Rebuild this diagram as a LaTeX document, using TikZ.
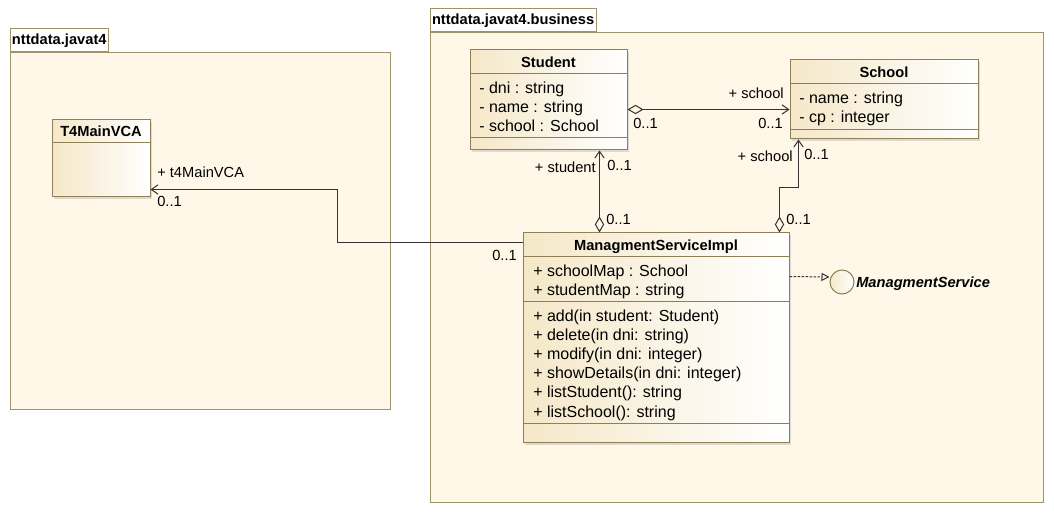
\documentclass[tikz,border=0pt]{standalone}
\usepackage{fontspec}
\setmainfont{Liberation Sans}
\usetikzlibrary{arrows.meta,positioning,calc,fit,shadows}
\definecolor{pkgfill}{HTML}{FFF8E9}
\definecolor{pkgline}{HTML}{A0936B}
\definecolor{clsline}{HTML}{8F7F57}
\definecolor{clstan}{HTML}{F5E8C8}
\definecolor{ink}{HTML}{333333}

\begin{document}
\begin{tikzpicture}[x=0.75pt,y=-0.75pt,
    font=\fontsize{12}{14}\selectfont,
    pkgbox/.style={draw=pkgline,line width=0.75pt,fill=pkgfill,inner sep=0pt},
    pkgtab/.style={draw=pkgline,line width=0.75pt,fill=white,inner xsep=1.5pt,inner ysep=0pt,
                   minimum height=17.25pt,anchor=south west,
                   font=\fontsize{11}{13}\selectfont\bfseries},
    clsbox/.style={draw=clsline,line width=0.75pt,left color=clstan,right color=white,inner sep=0pt,
                   drop shadow={shadow xshift=1.5pt,shadow yshift=-1.5pt,opacity=.25}},
    divider/.style={draw=clsline,line width=0.75pt},
    clsname/.style={anchor=base,inner sep=0pt,font=\fontsize{11}{13}\selectfont\bfseries},
    member/.style={anchor=base west,inner sep=0pt},
    role/.style={inner sep=0pt,font=\fontsize{11}{13}\selectfont},
    link/.style={draw=ink,line width=0.75pt},
    assoc/.style={link,-{Straight Barb[length=5pt,width=7pt]}},
    aggr/.style={link,{Diamond[open,length=12pt,width=7pt]}-{Straight Barb[length=5pt,width=7pt]}},
    realize/.style={link,dash pattern=on 2pt off 1pt,-{Triangle[open,length=6pt,width=6pt]}}]

  \path[use as bounding box,fill=white] (0,0) rectangle (1054,513);

  \node[pkgbox,fit={(10,53) (390,410)}] (apppkg) {};
  \node[pkgtab] (apptab) at (apppkg.north west) {nttdata.javat4};
  \node[pkgbox,fit={(430,33) (1043,502)}] (buspkg) {};
  \node[pkgtab] (bustab) at (buspkg.north west) {nttdata.javat4.business};

  \node[clsbox,fit={(52,120) (150,197)}] (t4main) {};
  \draw[divider] (52,143) -- (150,143);
  \node[clsname] (t4mainname) at (101,136.5) {T4MainVCA};

  \node[clsbox,fit={(470,50) (627,150)}] (student) {};
  \draw[divider] (470,74) -- (627,74);
  \draw[divider] (470,138) -- (627,138);
  \node[clsname] (studentname) at (548.5,67.5) {Student};
  \node[member] (studentdni) at (479,94) {- dni : string};
  \node[member] (studentnm) at (479,113) {- name : string};
  \node[member] (studentsch) at (479,132) {- school : School};

  \node[clsbox,fit={(790,60) (978,139)}] (school) {};
  \draw[divider] (790,84) -- (978,84);
  \draw[divider] (790,130) -- (978,130);
  \node[clsname] (schoolname) at (884,77.5) {School};
  \node[member] (schoolnm) at (799,104) {- name : string};
  \node[member] (schoolcp) at (799,123) {- cp : integer};

  \node[clsbox,fit={(523,233) (789,443)}] (impl) {};
  \draw[divider] (523,257) -- (789,257);
  \draw[divider] (523,302) -- (789,302);
  \draw[divider] (523,424) -- (789,424);
  \node[clsname] (implname) at (656,250.5) {ManagmentServiceImpl};
  \node[member] (implschmap) at (533,277) {+ schoolMap : School};
  \node[member] (implstumap) at (533,296) {+ studentMap : string};
  \node[member] (impladd) at (533,322) {+ add(in student: Student)};
  \node[member] (impldel) at (533,341) {+ delete(in dni: string)};
  \node[member] (implmod) at (533,360) {+ modify(in dni: integer)};
  \node[member] (implshow) at (533,379) {+ showDetails(in dni: integer)};
  \node[member] (impllststu) at (533,398) {+ listStudent(): string};
  \node[member] (impllstsch) at (533,417) {+ listSchool(): string};

  \node[circle,draw=clsline,line width=0.75pt,left color=clstan,right color=white,
        minimum size=18pt,inner sep=0pt] (iface) at (842,282) {};
  \node[anchor=base west,inner sep=0pt,font=\fontsize{11}{13}\selectfont\bfseries\itshape]
       (ifacename) at (856,288) {ManagmentService};

  \draw[assoc] ($(impl.north west)+(0,10)$) -- ++(-185,0) |- ($(t4main.south east)+(0,-8)$);
  \draw[aggr] ($(student.north east)+(0,60)$) -- ($(school.north west)+(0,50)$);
  \draw[aggr] ($(impl.north west)+(77,0)$) -- ($(student.south west)+(130,0)$);
  \draw[aggr] ($(impl.north west)+(257,0)$) -- ++(0,-45) -| ($(school.south west)+(9,0)$);
  \draw[realize] ($(impl.north east)+(0,44)$) -- ($(iface.west)+(0,-5)$);

  \node[role,anchor=base west] (t4role) at (157,178) {+ t4MainVCA};
  \node[role,anchor=base west] (t4mult) at (157,207) {0..1};
  \node[role,anchor=base east] (implmult) at (517,261) {0..1};
  \node[role,anchor=base east] (schrole) at (784,99) {+ school};
  \node[role,anchor=base west] (stusrcmult) at (633,129) {0..1};
  \node[role,anchor=base east] (schmult) at (783,129) {0..1};
  \node[role,anchor=base east] (sturole) at (596,173) {+ student};
  \node[role,anchor=base west] (stumult) at (607,171) {0..1};
  \node[role,anchor=base west] (implstumult) at (606,225) {0..1};
  \node[role,anchor=base east] (schrole2) at (793,162) {+ school};
  \node[role,anchor=base west] (schmult2) at (804,160) {0..1};
  \node[role,anchor=base west] (implschmult) at (786,225) {0..1};
\end{tikzpicture}
\end{document}
